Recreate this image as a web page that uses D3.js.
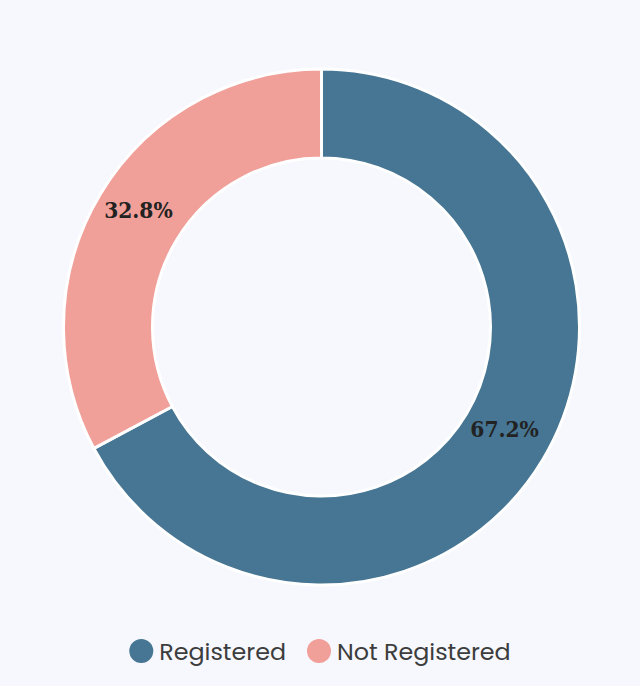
<!DOCTYPE html>
<html><head><meta charset="utf-8">
<script src="https://cdn.jsdelivr.net/npm/d3@7"></script>
<style>html,body{margin:0;padding:0;background:#f7f8fe;}svg{display:block;}</style>
</head><body>
<script>
const categories = ["Registered", "Not Registered"];
const values = [67.2, 32.8];
const colors = ["#467693", "#f19f99"];

const W = 640, H = 686;
const svg = d3.select("body").append("svg").attr("width", W).attr("height", H);
svg.append("rect").attr("width", W).attr("height", H).attr("fill", "#f7f8fe");

const cx = 321.5, cy = 327, rOuter = 258, rInner = 169;
const pie = d3.pie().sort(null).value(d => d.v);
const data = pie(categories.map((c, i) => ({c, v: values[i], col: colors[i]})));
const arc = d3.arc().innerRadius(rInner).outerRadius(rOuter);
const g = svg.append("g").attr("transform", `translate(${cx},${cy})`);
g.selectAll("path").data(data).join("path")
  .attr("d", arc).attr("fill", d => d.data.col)
  .attr("stroke", "#ffffff").attr("stroke-width", 3).attr("stroke-linejoin", "round");
g.selectAll("text").data(data).join("text")
  .attr("transform", d => `translate(${arc.centroid(d)})`)
  .attr("text-anchor", "middle").attr("dy", "0.02em")
  .attr("font-family", "'DejaVu Serif Condensed', 'DejaVu Serif', serif").attr("font-weight", "bold")
  .attr("font-size", 22.5).attr("fill", "#222222")
  .text(d => d.data.v.toFixed(1) + "%");

// legend
const leg = svg.append("g").attr("transform", "translate(0,651)");
const items = leg.selectAll("g").data(categories).join("g");
const font = "Poppins, 'Open Sans', sans-serif";
items.append("circle").attr("r", 12).attr("fill", (d, i) => colors[i]);
items.append("text").attr("x", 18).attr("dy", "0.36em")
  .attr("font-family", font).attr("font-size", 23.8).attr("fill", "#3d3d3d")
  .text(d => d);
let widths = [];
items.each(function(){ widths.push(this.querySelector("text").getComputedTextLength()); });
const step = 33; // from text end to next circle centre
const total = 12 + widths.reduce((a, w) => a + 18 + w, 0) + step * (widths.length - 1);
let x = W / 2 - total / 2 + 12;
items.attr("transform", (d, i) => { const t = `translate(${x},0)`; x += 18 + widths[i] + step; return t; });
</script>
</body></html>
